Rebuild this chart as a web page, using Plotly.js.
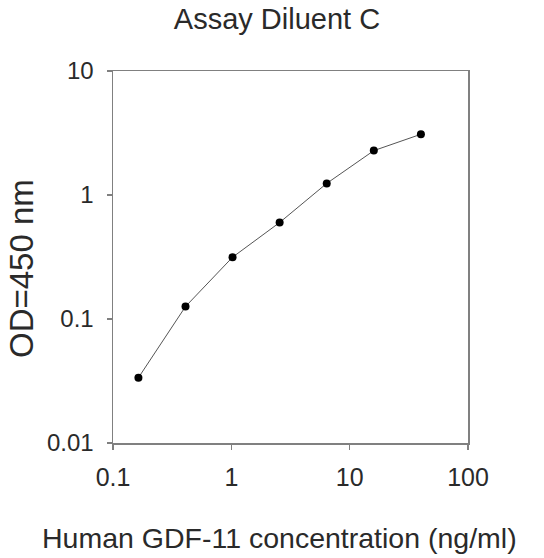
<!DOCTYPE html>
<html>
<head>
<meta charset="utf-8">
<script src="https://cdn.plot.ly/plotly-3.0.1.min.js"></script>
<style>html,body{margin:0;padding:0;background:#fff;}#chart{width:544px;height:558px;}</style>
</head>
<body>
<div id="chart"></div>
<script>
var concentration = [0.164, 0.41, 1.024, 2.56, 6.4, 16, 40];
var od450 = [0.0336, 0.126, 0.315, 0.60, 1.24, 2.28, 3.09];
var xTickVals = [0.1, 1, 10, 100];
var xTickText = ["0.1", "1", "10", "100"];
var yTickVals = [0.01, 0.1, 1, 10];
var yTickText = ["0.01", "0.1", "1", "10"];
var chartTitle = 'Assay Diluent C';
var xTitle = 'Human GDF-11 concentration (ng/ml)';
var yTitle = 'OD=450 nm';

var fontFam = '"Liberation Sans", Arial, sans-serif';
var textColor = '#2a2a2a';
var axisColor = '#808080';

var trace = {
  x: concentration,
  y: od450,
  mode: 'lines+markers',
  type: 'scatter',
  line: {color: '#555555', width: 1},
  marker: {color: '#000000', size: 8},
  showlegend: false,
  hoverinfo: 'x+y'
};

var layout = {
  width: 544,
  height: 558,
  margin: {l: 113, r: 76, t: 71, b: 115},
  paper_bgcolor: '#ffffff',
  plot_bgcolor: '#ffffff',
  font: {family: fontFam, color: textColor},
  title: {
    text: chartTitle,
    font: {family: fontFam, size: 29, color: textColor},
    x: 277 / 544, xref: 'container', xanchor: 'center',
    y: 1 - 19 / 558, yref: 'container', yanchor: 'middle'
  },
  xaxis: {
    type: 'log',
    range: [-1, 2],
    tickvals: xTickVals,
    ticktext: xTickText,
    ticks: 'outside',
    ticklen: 5,
    tickwidth: 1.5,
    tickcolor: axisColor,
    showline: true,
    linecolor: axisColor,
    linewidth: 1.5,
    mirror: true,
    showgrid: false,
    zeroline: false,
    ticklabelstandoff: 6,
    tickfont: {family: fontFam, size: 25, color: textColor}
  },
  yaxis: {
    type: 'log',
    range: [-2, 1],
    tickvals: yTickVals,
    ticktext: yTickText,
    ticks: 'outside',
    ticklen: 5,
    tickwidth: 1.5,
    tickcolor: axisColor,
    showline: true,
    linecolor: axisColor,
    linewidth: 1.5,
    mirror: true,
    showgrid: false,
    zeroline: false,
    ticklabelstandoff: 8,
    tickfont: {family: fontFam, size: 24, color: textColor}
  },
  annotations: [
    {
      text: xTitle,
      xref: 'paper', yref: 'paper',
      x: (279 - 113) / 355, y: (443 - 538) / 372,
      xanchor: 'center', yanchor: 'middle',
      showarrow: false,
      font: {family: fontFam, size: 28.5, color: textColor}
    },
    {
      text: yTitle,
      xref: 'paper', yref: 'paper',
      x: (21 - 113) / 355, y: (443 - 269) / 372,
      xanchor: 'center', yanchor: 'middle',
      textangle: -90,
      showarrow: false,
      font: {family: fontFam, size: 33, color: textColor}
    }
  ]
};

Plotly.newPlot('chart', [trace], layout, {displayModeBar: false, staticPlot: true});
</script>
</body>
</html>
